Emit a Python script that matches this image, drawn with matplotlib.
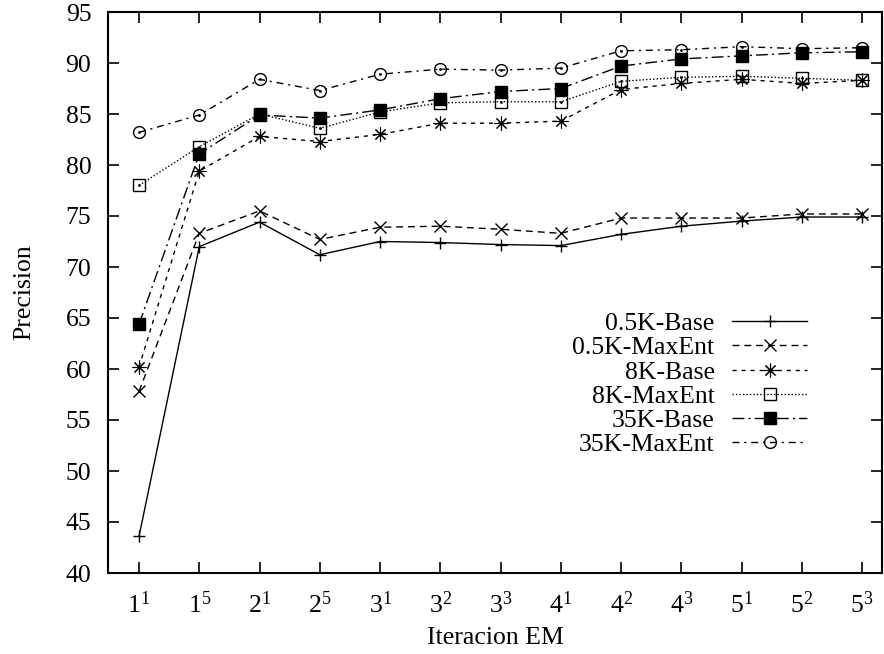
import matplotlib
matplotlib.use('Agg')
import matplotlib.pyplot as plt

iterations = ['1^1', '1^5', '2^1', '2^5', '3^1', '3^2', '3^3',
              '4^1', '4^2', '4^3', '5^1', '5^2', '5^3']

base_05k = [43.6, 72.0, 74.4, 71.2, 72.5, 72.4, 72.2, 72.1, 73.2, 74.0, 74.5, 74.9, 74.9]
maxent_05k = [57.8, 73.3, 75.5, 72.7, 73.9, 74.0, 73.7, 73.3, 74.8, 74.8, 74.8, 75.2, 75.2]
base_8k = [60.2, 79.4, 82.8, 82.3, 83.0, 84.1, 84.1, 84.3, 87.4, 88.0, 88.4, 88.0, 88.3]
maxent_8k = [78.0, 81.8, 85.0, 83.6, 85.2, 86.1, 86.2, 86.2, 88.2, 88.6, 88.7, 88.5, 88.3]
base_35k = [64.4, 81.1, 84.9, 84.6, 85.4, 86.5, 87.2, 87.5, 89.7, 90.4, 90.7, 91.0, 91.1]
maxent_35k = [83.2, 84.9, 88.4, 87.3, 88.9, 89.4, 89.3, 89.5, 91.2, 91.3, 91.6, 91.4, 91.5]

plt.rcParams['font.family'] = 'Liberation Serif'
plt.rcParams['mathtext.fontset'] = 'custom'
plt.rcParams['mathtext.rm'] = 'Liberation Serif'
plt.rcParams['mathtext.default'] = 'regular'
plt.rcParams['font.size'] = 18.5

fig = plt.figure(figsize=(8.84, 6.54), dpi=100)
ax = fig.add_axes([108 / 884, 1 - 573 / 654, (882 - 108) / 884, (573 - 12) / 654])

x = list(range(1, len(iterations) + 1))
series = [
    ('0.5K-Base', base_05k, '-', None, '+', 'k', 9, 1.0),
    ('0.5K-MaxEnt', maxent_05k, '--', (5, 3.5), 'x', 'k', 8, 1.0),
    ('8K-Base', base_8k, '--', (3, 3.5), (8, 2, 0), 'k', 10, 0.8),
    ('8K-MaxEnt', maxent_8k, ':', (1, 1.5), 's', 'none', 8, 1.0),
    ('35K-Base', base_35k, '-.', (8.5, 3, 1.5, 3), 's', 'k', 8.5, 1.0),
    ('35K-MaxEnt', maxent_35k, '-.', (5, 3.5, 1.5, 3.5), 'o', 'none', 8.5, 1.0),
]

for name, vals, ls, dashes, mk, mfc, ms, mew in series:
    line, = ax.plot(x, vals, color='k', linestyle=ls, linewidth=1.0,
                    marker=mk, markersize=ms, markerfacecolor=mfc,
                    markeredgecolor='k', markeredgewidth=mew, label=name)
    if dashes is not None:
        line.set_dashes(dashes)
    if mfc == 'none':
        ax.plot(x, vals, linestyle='none', marker='.', markersize=2, color='k')

ax.set_xlim(0.485, 13.33)
ax.set_ylim(40, 95)
ax.set_yticks(range(40, 96, 5))
ax.set_xticks(x)
ax.set_xticklabels(['$' + t + '$' for t in iterations])
ax.tick_params(direction='in', length=8, width=1.2, top=True, right=True)
ax.tick_params(axis='y', pad=12)
ax.tick_params(axis='x', pad=13)
for sp in ax.spines.values():
    sp.set_linewidth(1.5)

ax.set_xlabel('Iteracion EM', labelpad=7)
ax.set_ylabel('Precision', labelpad=22)

ax.legend(loc='upper right', bbox_to_anchor=(807 / 884, 1 - 312 / 654),
          bbox_transform=fig.transFigure, frameon=False, markerfirst=False,
          numpoints=1, handlelength=2.9, handletextpad=0.7, labelspacing=0.05,
          borderpad=0, borderaxespad=0)

fig.savefig('out.png', dpi=100)
